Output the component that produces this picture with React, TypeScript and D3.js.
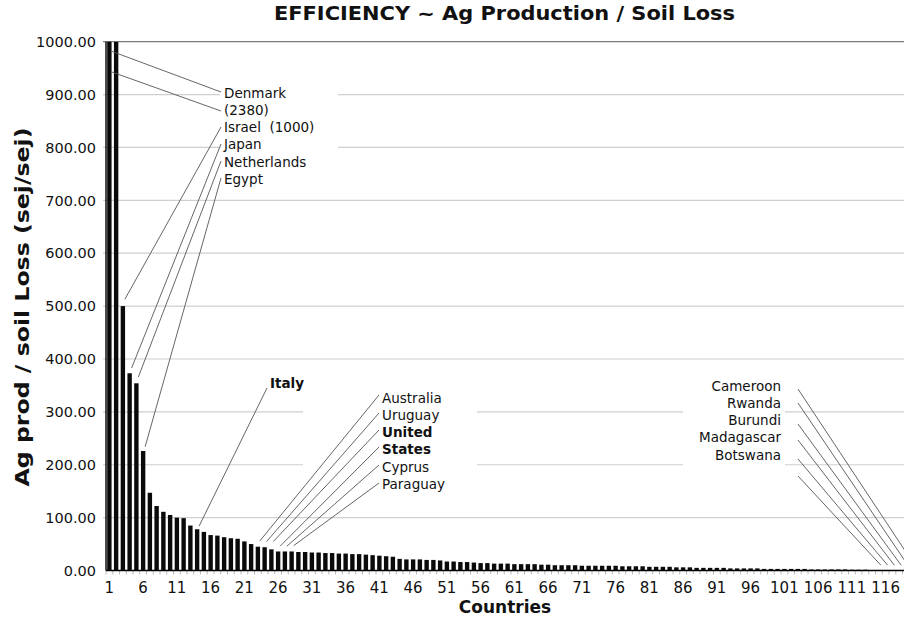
import React from "react";
import * as d3 from "d3";

// Ag production / soil loss efficiency, countries ranked high to low
const values: number[] = [
  2380, 1000, 500, 373, 354, 226, 147, 122, 111, 105,
  100, 99, 85, 78, 73, 67, 66, 63, 61, 60,
  55, 50, 45, 44, 40, 36, 36, 36, 35, 35,
  34, 34, 33, 33, 32, 32, 31, 31, 30, 29,
  28, 27, 26, 22, 21, 21, 21, 20, 20, 19,
  17, 17, 16, 16, 15, 14, 14, 13, 13, 13,
  12, 12, 12, 12, 11, 11, 10, 10, 10, 10,
  9, 9, 9, 9, 9, 9, 8, 8, 8, 8,
  7, 7, 7, 7, 6, 6, 6, 5, 5, 5,
  5, 5, 4, 4, 4, 4, 4, 3, 3, 3,
  3, 3, 3, 3, 2, 2, 2, 2, 2, 2,
  1.5, 1.5, 1.5, 1, 1, 1, 0.8, 0.6, 0.5, 0.4,
  0.3,
];
const categories: number[] = values.map((_, i) => i + 1);
const xTickLabels: number[] = [
  1, 6, 11, 16, 21, 26, 31, 36, 41, 46, 51, 56, 61, 66, 71, 76, 81, 86, 91, 96, 101, 106, 111, 116,
];
const yTicks: number[] = [0, 100, 200, 300, 400, 500, 600, 700, 800, 900, 1000];

const title = "EFFICIENCY ~ Ag Production / Soil Loss";
const yTitle = "Ag prod / soil Loss (sej/sej)";
const xTitle = "Countries";

// Callout groups: text lines, and leaders from a bar (country rank, value) to a label point
const groupTop = ["Denmark", "(2380)", "Israel  (1000)", "Japan", "Netherlands", "Egypt"];
const groupTopBold = [false, false, false, false, false, false];
const leadersTop = [
  { bar: 1, value: 982, lx: 221, ly: 92 },
  { bar: 1, value: 943, lx: 221, ly: 111 },
  { bar: 3, value: 513, lx: 221, ly: 127 },
  { bar: 4, value: 383, lx: 221, ly: 144 },
  { bar: 5, value: 366, lx: 221, ly: 161 },
  { bar: 6, value: 234, lx: 221, ly: 178 },
];

const groupItaly = ["Italy"];
const leadersItaly = [{ bar: 14, value: 84, lx: 267, ly: 388 }];

const groupMid = ["Australia", "Uruguay", "United", "States", "Cyprus", "Paraguay"];
const groupMidBold = [false, false, true, true, false, false];
const leadersMid = [
  { bar: 23, value: 56, lx: 379, ly: 395 },
  { bar: 24, value: 55, lx: 379, ly: 413 },
  { bar: 25, value: 55, lx: 379, ly: 430 },
  { bar: 26, value: 46, lx: 379, ly: 447 },
  { bar: 27, value: 46, lx: 379, ly: 465 },
  { bar: 28, value: 47, lx: 379, ly: 483 },
];

const groupRight = ["Cameroon", "Rwanda", "Burundi", "Madagascar", "Botswana"];
const leadersRight = [
  { bar: 120, value: 10, lx: 798, ly: 389 },
  { bar: 119, value: 10, lx: 798, ly: 403 },
  { bar: 118, value: 10, lx: 798, ly: 424 },
  { bar: 117, value: 10, lx: 798, ly: 440 },
  { bar: 116, value: 10, lx: 798, ly: 459 },
  { bar: 115, value: 10, lx: 798, ly: 476 },
];

const W = 904;
const H = 626;
const FONT = "'DejaVu Sans', Verdana, sans-serif";
const left = 106;
const top = 41.7;
const bottom = 570.5;
const step = 6.75;

export default function App() {
  const x = d3
    .scaleBand<number>()
    .domain(categories)
    .range([left, left + step * categories.length])
    .paddingInner(0.35)
    .paddingOuter(0.175);
  const y = d3.scaleLinear().domain([0, 1000]).range([bottom, top]);
  const right = left + step * categories.length;
  const cx = (c: number) => (x(c) as number) + x.bandwidth() / 2;

  const lineH = 17.2;

  const leader = (l: { bar: number; value: number; lx: number; ly: number }, i: number, key: string) => (
    <line
      key={key + i}
      x1={cx(l.bar) + 2}
      y1={y(l.value)}
      x2={l.lx}
      y2={l.ly}
      stroke="#555"
      strokeWidth={0.9}
    />
  );

  return (
    <svg width={W} height={H} style={{ position: "absolute", left: 0, top: 0, background: "#fff" }} fontFamily={FONT}>
      <defs>
        <clipPath id="plotClip">
          <rect x={left} y={top} width={right - left} height={bottom - top} />
        </clipPath>
      </defs>
      <rect x={0} y={0} width={W} height={H} fill="#fff" />

      {/* gridlines */}
      {yTicks
        .filter((t) => t > 0 && t < 1000)
        .map((t) => (
          <line key={"g" + t} x1={left - 3} x2={right} y1={y(t)} y2={y(t)} stroke="#cfcfcf" strokeWidth={1.2} />
        ))}
      <line x1={left - 3} x2={right} y1={y(1000)} y2={y(1000)} stroke="#7a7a7a" strokeWidth={1.2} />

      {/* label backgrounds that interrupt the gridlines */}
      <rect x={220} y={84} width={118} height={104} fill="#fff" />
      <rect x={303} y={388} width={174} height={104} fill="#fff" />
      <rect x={683} y={376} width={102} height={90} fill="#fff" />

      {/* bars */}
      <g clipPath="url(#plotClip)">
        {values.map((v, i) => (
          <rect
            key={"b" + i}
            x={x(categories[i]) as number}
            y={y(Math.min(v, 1100))}
            width={x.bandwidth()}
            height={bottom - y(Math.min(v, 1100))}
            fill="#0a0a0a"
          />
        ))}
      </g>

      {/* axes */}
      <line x1={left} x2={left} y1={top} y2={bottom} stroke="#000" strokeWidth={1.4} />
      {categories.map((c) => (
        <line
          key={"xt" + c}
          x1={(x(c) as number) - (x.step() - x.bandwidth()) / 2}
          x2={(x(c) as number) - (x.step() - x.bandwidth()) / 2}
          y1={bottom}
          y2={bottom + 4}
          stroke="#aaa"
          strokeWidth={0.8}
        />
      ))}
      <line x1={left} x2={right} y1={bottom} y2={bottom} stroke="#000" strokeWidth={1.4} />

      {yTicks.map((t) => (
        <text key={"yl" + t} x={96} y={y(t)} dy="0.36em" textAnchor="end" fontSize={14.5} fill="#111">
          {t.toFixed(2)}
        </text>
      ))}
      {xTickLabels.map((c) => (
        <text key={"xl" + c} x={cx(c)} y={593} textAnchor="middle" fontSize={15} fill="#111">
          {c}
        </text>
      ))}

      {/* titles */}
      <text x={504.5} y={20} textAnchor="middle" fontSize={19} fontWeight="bold" fill="#111" textLength={461} lengthAdjust="spacingAndGlyphs">
        {title}
      </text>
      <text x={505} y={613} textAnchor="middle" fontSize={17} fontWeight="bold" fill="#111">
        {xTitle}
      </text>
      <text
        transform="translate(29,307) rotate(-90)"
        textAnchor="middle"
        fontSize={19}
        fontWeight="bold"
        fill="#111"
        textLength={359}
        lengthAdjust="spacingAndGlyphs"
      >
        {yTitle}
      </text>

      {/* callouts */}
      {leadersTop.map((l, i) => leader(l, i, "lt"))}
      {leadersItaly.map((l, i) => leader(l, i, "li"))}
      {leadersMid.map((l, i) => leader(l, i, "lm"))}
      {leadersRight.map((l, i) => leader(l, i, "lr"))}

      {groupTop.map((t, i) => (
        <text key={"tt" + i} x={224} y={93 + i * lineH} dy="0.36em" fontSize={13.5} fill="#111" fontWeight={groupTopBold[i] ? "bold" : "normal"} style={{ whiteSpace: "pre" }}>
          {t}
        </text>
      ))}
      {groupItaly.map((t, i) => (
        <text key={"ti" + i} x={270} y={383} dy="0.36em" fontSize={13.5} fontWeight="bold" fill="#111">
          {t}
        </text>
      ))}
      {groupMid.map((t, i) => (
        <text key={"tm" + i} x={382} y={398 + i * lineH} dy="0.36em" fontSize={13.5} fill="#111" fontWeight={groupMidBold[i] ? "bold" : "normal"}>
          {t}
        </text>
      ))}
      {groupRight.map((t, i) => (
        <text key={"tr" + i} x={781} y={386 + i * lineH} dy="0.36em" fontSize={13.5} textAnchor="end" fill="#111">
          {t}
        </text>
      ))}
    </svg>
  );
}
